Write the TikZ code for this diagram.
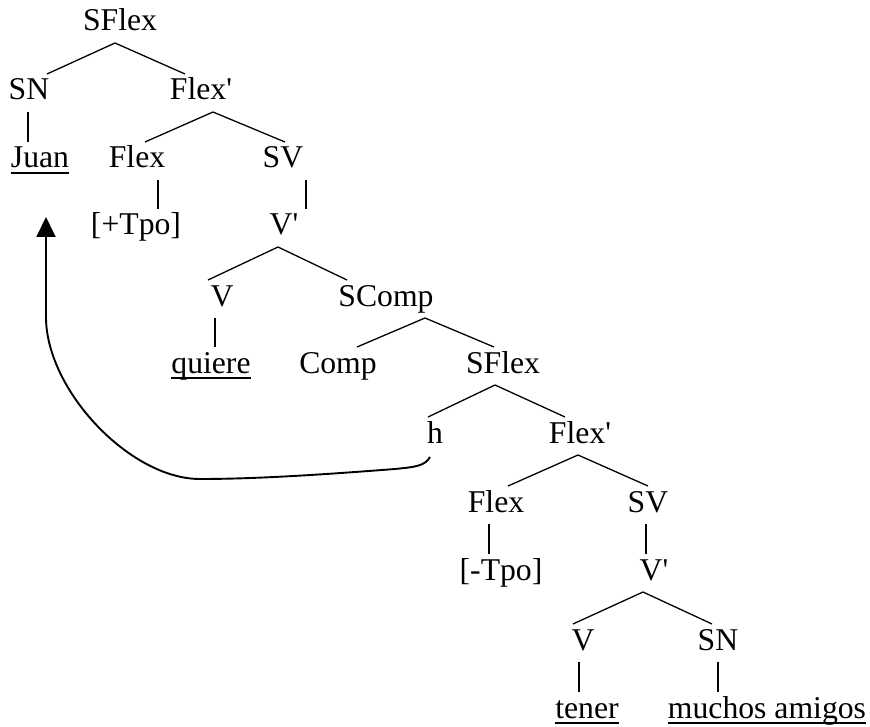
\documentclass[tikz,border=0pt]{standalone}
\usepackage{fontspec}
\setmainfont{Liberation Serif}
\usetikzlibrary{arrows.meta}
\tikzset{
  tn/.style={anchor=base, inner sep=0pt, font=\fontsize{31.7}{38}\selectfont},
  branch/.style={line width=1.3pt},
  ul/.style={line width=1.4pt},
  mover/.style={line width=1.9pt, -{Triangle[length=20pt,width=19pt]}}
}
\newcommand\treeedge[4]{\draw[branch] ([shift={(#2,12)}]#1.base) -- ([shift={(#4,-26)}]#3.base);}
\newcommand\ulnode[1]{\draw[ul] ([shift={(0,5)}]#1.base west) -- ([shift={(0,5)}]#1.base east);}
\begin{document}
\begin{tikzpicture}[x=1pt,y=-1pt]
\useasboundingbox (0,0) rectangle (870,727);
\node[tn] (s1) at (120,31) {SFlex};
\node[tn] (sn1) at (29,100) {SN};
\node[tn] (f1) at (201,100) {Flex\textquotesingle};
\node[tn] (juan) at (40,168) {Juan};
\node[tn] (flex1) at (137,168) {Flex};
\node[tn] (sv1) at (283,168) {SV};
\node[tn] (tpo1) at (136,235) {[+Tpo]};
\node[tn] (vb1) at (284,235) {V\textquotesingle};
\node[tn] (v1) at (222,306) {V};
\node[tn] (scomp) at (386,306) {SComp};
\node[tn] (quiere) at (211,373) {quiere};
\node[tn] (comp) at (338,373) {Comp};
\node[tn] (s2) at (503,373) {SFlex};
\node[tn] (h) at (435,443) {h};
\node[tn] (f2) at (580,443) {Flex\textquotesingle};
\node[tn] (flex2) at (496,512) {Flex};
\node[tn] (sv2) at (648,512) {SV};
\node[tn] (tpo2) at (501,580) {[-Tpo]};
\node[tn] (vb2) at (654,580) {V\textquotesingle};
\node[tn] (v2) at (583,650) {V};
\node[tn] (sn2) at (718,650) {SN};
\node[tn] (tener) at (587,718) {tener};
\node[tn] (muchos) at (767,718) {muchos amigos};
\ulnode{juan}
\ulnode{quiere}
\ulnode{tener}
\ulnode{muchos}
\treeedge{s1}{-5}{sn1}{18}
\treeedge{s1}{-5}{f1}{-16}
\treeedge{sn1}{-1}{juan}{-12}
\treeedge{f1}{12}{flex1}{8}
\treeedge{f1}{12}{sv1}{2}
\treeedge{flex1}{21}{tpo1}{22}
\treeedge{sv1}{23}{vb1}{22}
\treeedge{vb1}{-6}{v1}{-14}
\treeedge{vb1}{-6}{scomp}{-39}
\treeedge{v1}{-7}{quiere}{4}
\treeedge{scomp}{39}{comp}{19}
\treeedge{scomp}{39}{s2}{-9}
\treeedge{s2}{-8}{h}{-7}
\treeedge{s2}{-8}{f2}{-15}
\treeedge{f2}{-2}{flex2}{12}
\treeedge{f2}{-2}{sv2}{0}
\treeedge{flex2}{-7}{tpo2}{-12}
\treeedge{sv2}{-2}{vb2}{-8}
\treeedge{vb2}{-11}{v2}{-10}
\treeedge{vb2}{-11}{sn2}{-6}
\treeedge{v2}{-4}{tener}{-8}
\treeedge{sn2}{0}{muchos}{-49}
\coordinate (tip) at (46,217);
\draw[mover] ([shift={(-5,14)}]h.base) .. controls (425,466) and (415,467) .. (395,469)
  .. controls (330,474) and (260,479) .. (200,479)
  .. controls (130,479) and (46,390) .. (46,317) -- (tip);
\end{tikzpicture}
\end{document}
